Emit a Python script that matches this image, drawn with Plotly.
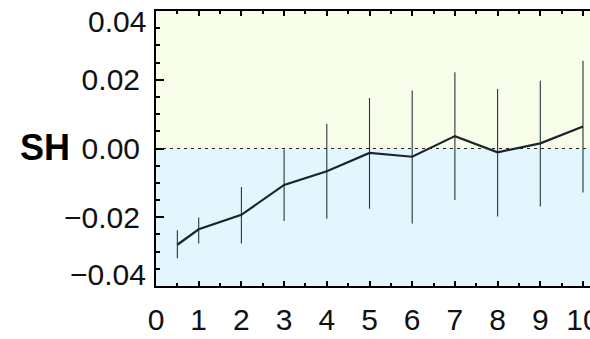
import plotly.graph_objects as go

# Data
x_vals = [0.5, 1, 2, 3, 4, 5, 6, 7, 8, 9, 10]
y_vals = [-0.0280, -0.0235, -0.0193, -0.0106, -0.0066, -0.0013, -0.0024, 0.0036, -0.0011, 0.0015, 0.0064]
upper = [-0.0238, -0.0201, -0.0112, -0.0003, 0.0072, 0.0147, 0.0169, 0.0222, 0.0173, 0.0197, 0.0255]
lower = [-0.0319, -0.0276, -0.0276, -0.0211, -0.0204, -0.0175, -0.0218, -0.0150, -0.0198, -0.0169, -0.0128]
x_ticks = [0, 1, 2, 3, 4, 5, 6, 7, 8, 9, 10]
x_tick_text = ["0", "1", "2", "3", "4", "5", "6", "7", "8", "9", "10"]
y_ticks = [-0.04, -0.02, 0.0, 0.02, 0.04]
y_tick_text = ["", "\u22120.02", "0.00", "0.02", ""]
y_edge_labels = {0.04: "0.04", -0.04: "\u22120.04"}
row_label = "SH"

err_plus = [u - y for u, y in zip(upper, y_vals)]
err_minus = [y - l for y, l in zip(y_vals, lower)]

TICK_FONT = dict(family="Liberation Sans Narrow, Arial Narrow, Liberation Sans, Arial", size=30, color="#111111")

fig = go.Figure()
fig.add_trace(go.Scatter(
    x=x_vals, y=y_vals, mode="lines",
    line=dict(color="#17262a", width=2.2),
    error_y=dict(type="data", symmetric=False, array=err_plus, arrayminus=err_minus,
                 width=0, thickness=1.1, color="#26383c"),
    showlegend=False,
))

# background halves
fig.add_shape(type="rect", xref="paper", yref="y", x0=0, x1=1, y0=0, y1=0.04,
              fillcolor="#f7fde9", line_width=0, layer="below")
fig.add_shape(type="rect", xref="paper", yref="y", x0=0, x1=1, y0=-0.04, y1=0,
              fillcolor="#e3f5fd", line_width=0, layer="below")
fig.add_shape(type="line", xref="paper", yref="y", x0=0, x1=1, y0=0, y1=0,
              line=dict(color="#222222", width=1, dash="3px,4px"), layer="below")

for val, txt in y_edge_labels.items():
    fig.add_annotation(xref="paper", yref="y", x=0, y=val, text=txt, showarrow=False,
                       xanchor="right", yanchor="middle", xshift=-8,
                       yshift=-10 if val > 0 else 12, font=TICK_FONT)

fig.add_annotation(xref="paper", yref="y", x=0, y=0, text=row_label, showarrow=False,
                   xanchor="center", yanchor="middle", xshift=-111, yshift=1,
                   font=dict(family="Liberation Sans, Arial", size=36, color="black", weight="bold"))

fig.update_xaxes(
    range=[0, 10.164], tickmode="array", tickvals=x_ticks, ticktext=x_tick_text,
    ticks="inside", ticklen=5, tickwidth=1.5, tickcolor="black",
    showline=True, linecolor="black", linewidth=2, mirror="allticks",
    showgrid=False, zeroline=False, tickfont=TICK_FONT,
    ticklabelstandoff=6, ticklabeloverflow="allow", automargin=False,
    minor=dict(ticks="inside", ticklen=3, tickwidth=1.5, tickcolor="black", dtick=0.5, tick0=0, showgrid=False),
)
fig.update_yaxes(
    range=[-0.04, 0.04], tickmode="array", tickvals=y_ticks, ticktext=y_tick_text,
    ticks="inside", ticklen=8, tickwidth=1.5, tickcolor="black",
    showline=True, linecolor="black", linewidth=2, mirror=False,
    showgrid=False, zeroline=False, tickfont=TICK_FONT,
    ticklabelstandoff=8, automargin=False,
    minor=dict(ticks="inside", ticklen=4, tickwidth=1.5, tickcolor="black", dtick=0.005, tick0=0, showgrid=False),
)

fig.update_layout(
    width=590, height=339,
    margin=dict(l=156, r=0, t=11, b=53, pad=0),
    paper_bgcolor="white", plot_bgcolor="white",
)

fig.write_html("out.html")
